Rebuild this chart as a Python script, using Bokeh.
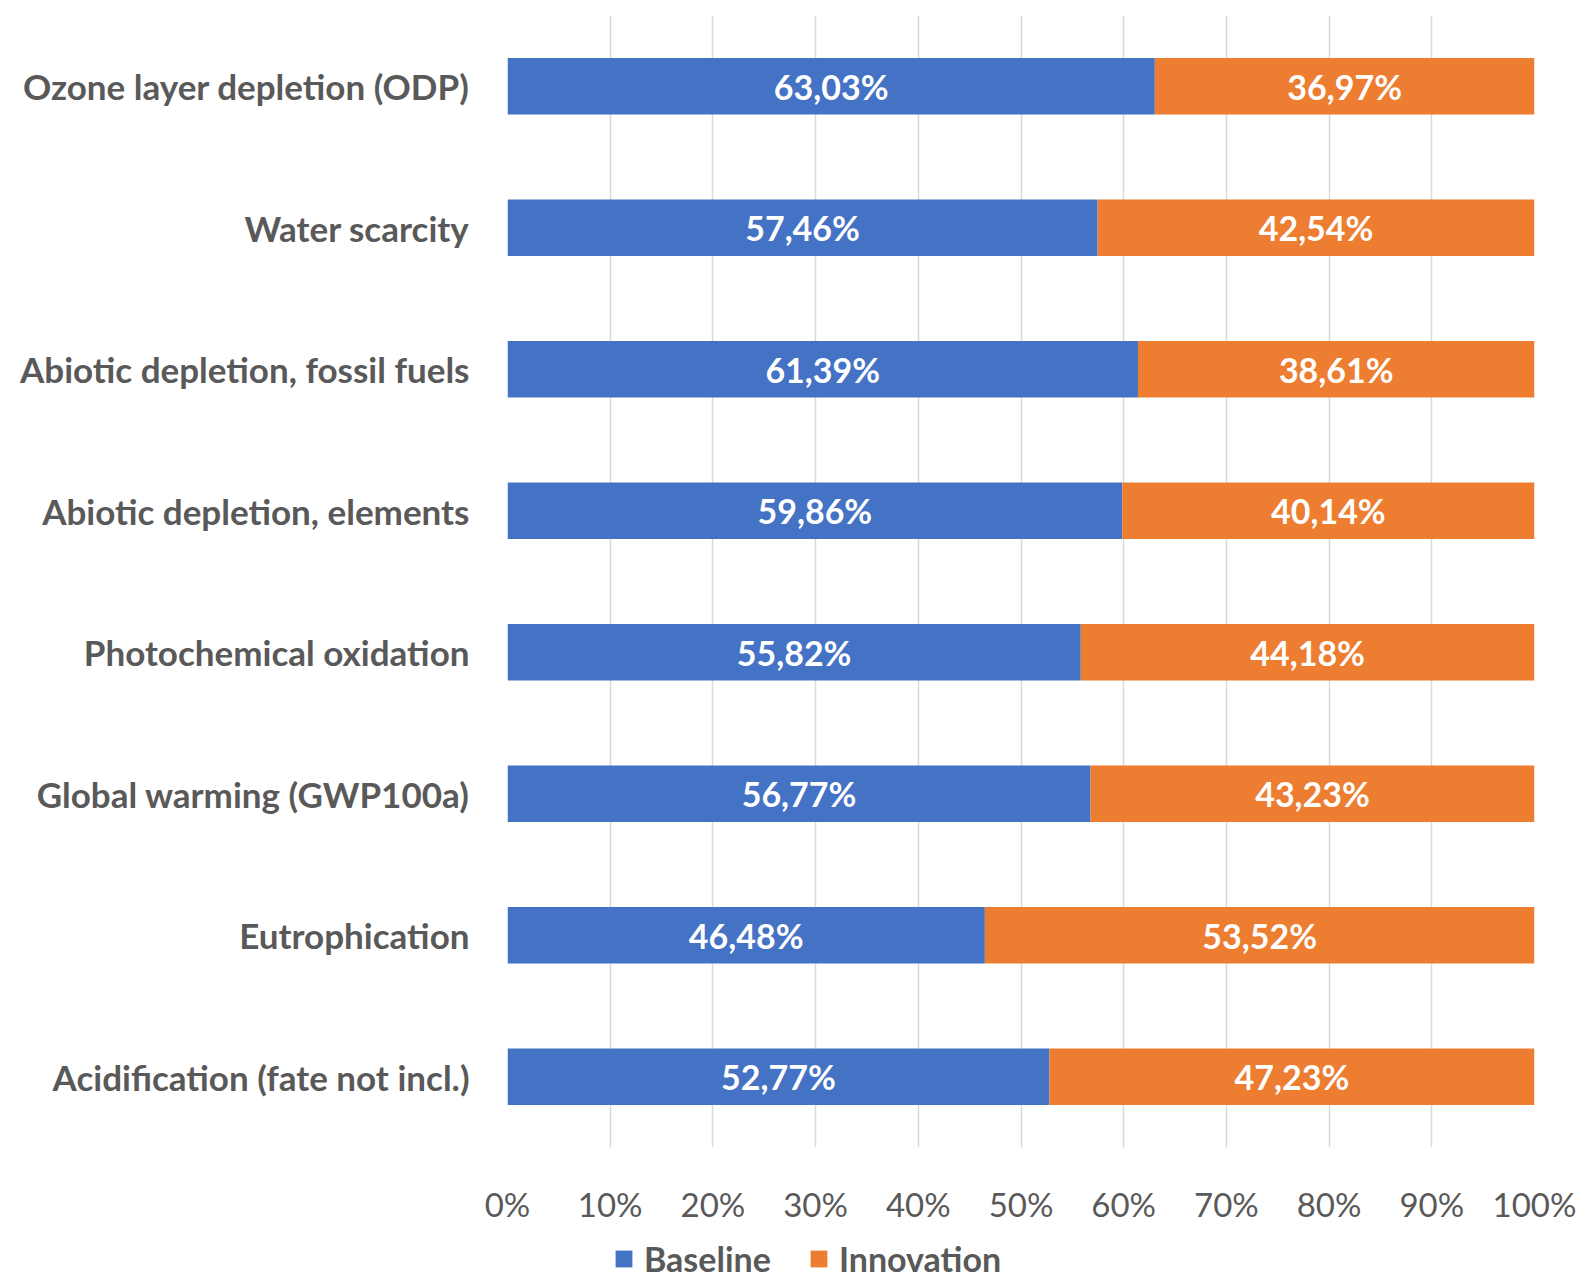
from bokeh.plotting import figure
from bokeh.layouts import column
from bokeh.models import ColumnDataSource, Legend, LegendItem, FactorRange, Range1d, FixedTicker
from bokeh.core.properties import value
from bokeh.embed import file_html
from bokeh.resources import INLINE

# Impact categories, top to bottom
categories = [
    "Ozone layer depletion (ODP)",
    "Water scarcity",
    "Abiotic depletion, fossil fuels",
    "Abiotic depletion, elements",
    "Photochemical oxidation",
    "Global warming (GWP100a)",
    "Eutrophication",
    "Acidification (fate not incl.)",
]
baseline = [63.03, 57.46, 61.39, 59.86, 55.82, 56.77, 46.48, 52.77]
innovation = [36.97, 42.54, 38.61, 40.14, 44.18, 43.23, 53.52, 47.23]
series_names = ["Baseline", "Innovation"]
x_ticks = [0, 10, 20, 30, 40, 50, 60, 70, 80, 90, 100]
x_tick_labels = [f"{t}%" for t in x_ticks]

BLUE = "#4472C4"
ORANGE = "#ED7D31"
TEXT = "#595959"
FONT = "Lato"


def pct(v):
    return f"{v:.2f}%".replace(".", ",")


src = ColumnDataSource(dict(
    cat=categories,
    baseline=baseline,
    innovation=innovation,
    b_mid=[b / 2 for b in baseline],
    i_mid=[b + i / 2 for b, i in zip(baseline, innovation)],
    b_lab=[pct(b) for b in baseline],
    i_lab=[pct(i) for i in innovation],
))

p = figure(
    width=1577, height=1232,
    y_range=FactorRange(factors=list(reversed(categories))),
    x_range=Range1d(0, 100),
    output_backend="svg", toolbar_location=None,
    min_border_left=507, min_border_right=43,
    min_border_top=15, min_border_bottom=85,
)
p.outline_line_color = None

p.hbar_stack(["baseline", "innovation"], y="cat", height=0.4,
             color=[BLUE, ORANGE], line_color=None, source=src)

for xcol, tcol in (("b_mid", "b_lab"), ("i_mid", "i_lab")):
    p.text(x=xcol, y="cat", text=tcol, source=src,
           text_align="center", text_baseline="middle",
           text_color="white", text_font=value(FONT),
           text_font_style="bold", text_font_size="34px")

# grid
p.ygrid.grid_line_color = None
p.xgrid.grid_line_color = "#D9D9D9"
p.xgrid.grid_line_width = 1.5

# x axis
p.xaxis.ticker = FixedTicker(ticks=x_ticks)
p.xaxis.major_label_overrides = {t: l for t, l in zip(x_ticks, x_tick_labels)}
p.xaxis.axis_line_color = None
p.xaxis.major_tick_line_color = None
p.xaxis.minor_tick_line_color = None
p.xaxis.major_label_text_font = FONT
p.xaxis.major_label_text_font_size = "33px"
p.xaxis.major_label_text_color = TEXT
p.xaxis.major_label_standoff = 30

# y axis
p.yaxis.axis_line_color = None
p.yaxis.major_tick_line_color = None
p.yaxis.minor_tick_line_color = None
p.yaxis.major_label_text_font = FONT
p.yaxis.major_label_text_font_style = "bold"
p.yaxis.major_label_text_font_size = "35px"
p.yaxis.major_label_text_color = TEXT
p.yaxis.major_label_standoff = 32

# legend strip under the chart; its frame lines up with the chart frame.
# The stack here has zero height, so only the legend swatches show.
leg = figure(
    width=1577, height=48,
    x_range=Range1d(0, 100), y_range=FactorRange(factors=list(reversed(categories))),
    output_backend="svg", toolbar_location=None,
    min_border=0, outline_line_color=None,
)
leg.axis.visible = False
leg.grid.visible = False
swatches = leg.hbar_stack(["baseline", "innovation"], y="cat", height=0,
                          color=[BLUE, ORANGE], line_color=None, source=src)

legend = Legend(
    items=[LegendItem(label=n, renderers=[r]) for n, r in zip(series_names, swatches)],
    orientation="horizontal", location=(106, 1),
    glyph_width=21, glyph_height=21, label_standoff=10, spacing=37,
    label_text_font=FONT, label_text_font_style="bold",
    label_text_font_size="34px", label_text_color=TEXT,
    border_line_color=None, background_fill_alpha=0, padding=0, margin=0,
)
leg.add_layout(legend, "center")

open("out.html", "w").write(file_html(column(p, leg, spacing=0), INLINE))
